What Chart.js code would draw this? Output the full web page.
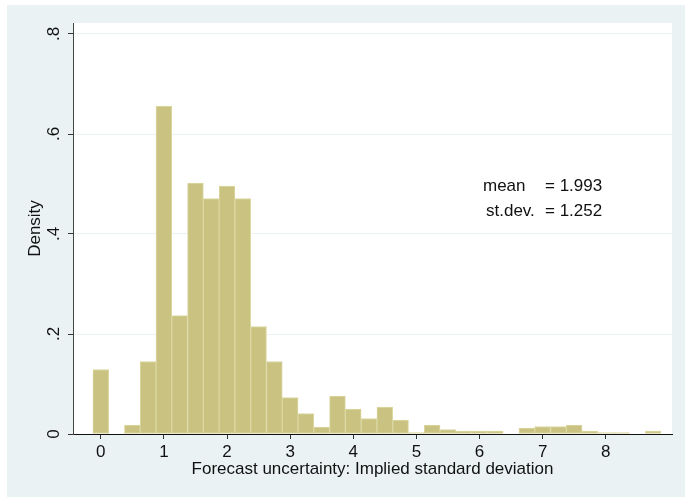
<!DOCTYPE html>
<html><head><meta charset="utf-8">
<script src="https://cdn.jsdelivr.net/npm/chart.js@4.4.0/dist/chart.umd.min.js"></script>
<style>html,body{margin:0;padding:0;background:#fff;} canvas{display:block;}</style>
</head><body>
<canvas id="c" width="685" height="497"></canvas>
<script>
// Histogram bins (centres, width 0.25) and density heights
const binCenters = [0, 0.25, 0.5, 0.75, 1, 1.25, 1.5, 1.75, 2, 2.25, 2.5, 2.75,
  3, 3.25, 3.5, 3.75, 4, 4.25, 4.5, 4.75, 5, 5.25, 5.5, 5.75,
  6, 6.25, 6.5, 6.75, 7, 7.25, 7.5, 7.75, 8, 8.25, 8.5, 8.75];
const density = [0.129, 0, 0.018, 0.145, 0.656, 0.237, 0.502, 0.471, 0.496, 0.471, 0.215, 0.145,
  0.073, 0.041, 0.014, 0.076, 0.050, 0.031, 0.054, 0.028, 0.003, 0.018, 0.009, 0.006,
  0.006, 0.006, 0, 0.012, 0.015, 0.015, 0.018, 0.006, 0.003, 0.003, 0, 0.006];
const xTickValues = [0, 1, 2, 3, 4, 5, 6, 7, 8];
const xTickLabels = ['0', '1', '2', '3', '4', '5', '6', '7', '8'];
const yTickValues = [0, 0.2, 0.4, 0.6, 0.8];
const yTickLabels = ['0', '.2', '.4', '.6', '.8'];
const statLabels = ['mean', 'st.dev.'];
const statValues = ['= 1.993', '= 1.252'];
const xTitle = 'Forecast uncertainty: Implied standard deviation';
const yTitle = 'Density';

const FONT = '"Liberation Sans", Arial, Helvetica, sans-serif';
const TEXT = '#111';
const BG = '#eaf2f3';

const decor = {
  id: 'decor',
  beforeDraw(chart) {
    const {ctx, chartArea: a} = chart;
    ctx.save();
    ctx.fillStyle = '#ffffff';
    ctx.fillRect(0, 0, chart.width, chart.height);
    ctx.fillStyle = BG;
    ctx.fillRect(7, 5, chart.width - 7, chart.height - 5);
    ctx.fillStyle = '#ffffff';
    ctx.fillRect(a.left, a.top, a.right - a.left, a.bottom - a.top);
    ctx.restore();
  },
  afterDraw(chart) {
    const {ctx, chartArea: a} = chart;
    const ys = chart.scales.y;
    ctx.save();
    ctx.fillStyle = TEXT;
    ctx.font = '17px ' + FONT;
    ctx.textAlign = 'center';
    ctx.textBaseline = 'alphabetic';
    yTickValues.forEach((v, i) => {
      const py = ys.getPixelForValue(v);
      ctx.save();
      ctx.translate(59, py);
      ctx.rotate(-Math.PI / 2);
      ctx.fillText(yTickLabels[i], 0, 0);
      ctx.restore();
    });
    ctx.save();
    ctx.translate(40, (a.top + a.bottom) / 2);
    ctx.rotate(-Math.PI / 2);
    ctx.fillText(yTitle, 0, 0);
    ctx.restore();
    ctx.textAlign = 'left';
    const lineY = [191, 216];
    const labX = [483, 486];
    statLabels.forEach((s, i) => {
      ctx.fillText(s, labX[i], lineY[i]);
      ctx.fillText(statValues[i], 545, lineY[i]);
    });
    ctx.restore();
  }
};

new Chart(document.getElementById('c'), {
  type: 'bar',
  data: {
    datasets: [{
      data: binCenters.map((x, i) => ({x: x, y: density[i]})),
      backgroundColor: 'rgb(201,194,128)',
      borderColor: 'rgb(220,216,163)',
      borderWidth: 1,
      borderSkipped: false,
      barPercentage: 1,
      categoryPercentage: 1
    }]
  },
  options: {
    responsive: false,
    animation: false,
    devicePixelRatio: 1,
    layout: {padding: {top: 23, right: 13, left: 0, bottom: 0}},
    plugins: {legend: {display: false}, tooltip: {enabled: false}},
    scales: {
      x: {
        type: 'linear',
        offset: false,
        min: -0.44,
        max: 9.05,
        afterBuildTicks(scale) { scale.ticks = xTickValues.map(v => ({value: v})); },
        afterFit(scale) { scale.height = 63; },
        ticks: {
          autoSkip: false,
          maxRotation: 0,
          padding: 3,
          color: TEXT,
          font: {family: FONT, size: 17},
          callback: (v) => { const i = xTickValues.indexOf(v); return i >= 0 ? xTickLabels[i] : ''; }
        },
        grid: {offset: false, drawOnChartArea: false, drawTicks: true, tickLength: 5, color: '#333', tickColor: '#333'},
        border: {display: true, color: '#111', width: 1},
        title: {display: true, text: xTitle, color: TEXT, font: {family: FONT, size: 17}, padding: {top: 0, bottom: 17}}
      },
      y: {
        type: 'linear',
        min: 0,
        max: 0.822,
        afterBuildTicks(scale) { scale.ticks = yTickValues.map(v => ({value: v})); },
        afterFit(scale) { scale.width = 73; },
        ticks: {display: false},
        grid: {drawOnChartArea: true, drawTicks: true, tickLength: 5, color: BG, tickColor: '#333', lineWidth: 1},
        border: {display: true, color: '#444', width: 1},
        title: {display: false}
      }
    }
  },
  plugins: [decor]
});
</script>
</body></html>
